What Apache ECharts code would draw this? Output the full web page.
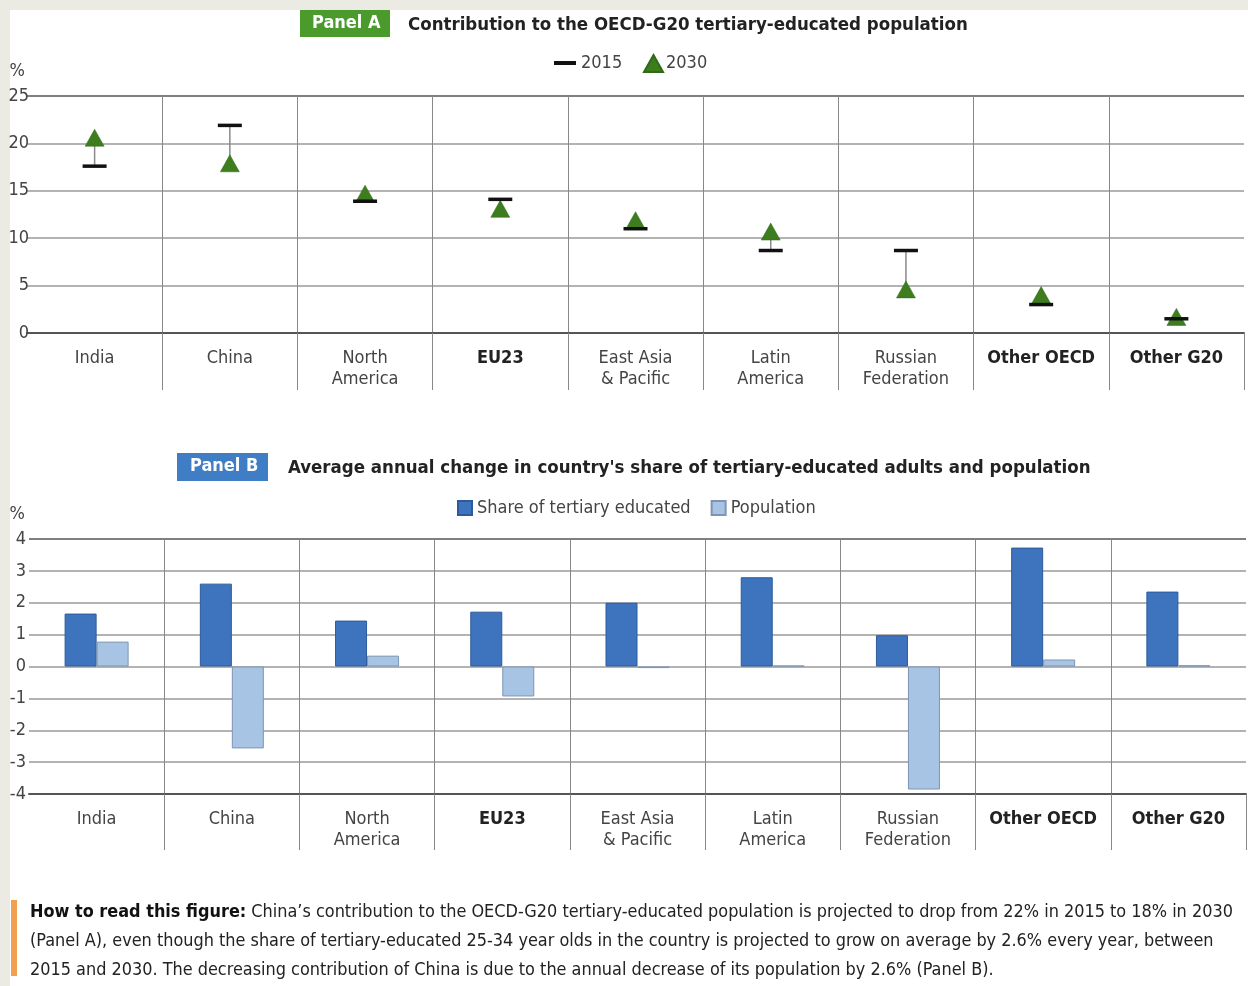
<!DOCTYPE html>
<html><head><meta charset="utf-8">
<script src="https://cdn.jsdelivr.net/npm/echarts@6/dist/echarts.min.js"></script>
<style>html,body{margin:0;padding:0;background:#ecebe3;}#c{width:1248px;height:986px;}</style>
</head><body><div id="c"></div>
<script>
const categories = ['India','China','North\nAmerica','EU23','East Asia\n& Pacific','Latin\nAmerica','Russian\nFederation','Other OECD','Other G20'];
const boldCats = ['EU23','Other OECD','Other G20'];
const contrib2015 = [17.6, 21.9, 13.9, 14.1, 11.0, 8.7, 8.7, 3.0, 1.5];
const contrib2030 = [20.6, 17.9, 14.7, 13.1, 11.9, 10.7, 4.6, 4.0, 1.7];
const shareTertiary = [1.66, 2.6, 1.44, 1.72, 2.0, 2.8, 0.98, 3.73, 2.35];
const population = [0.78, -2.57, 0.34, -0.94, -0.05, 0.03, -3.86, 0.22, 0.04];
const ticksA = {min: 0, max: 25, interval: 5};
const ticksB = {min: -4, max: 4, interval: 1};

const FONT = "'Liberation Sans Narrow','Arial Narrow','DejaVu Sans Condensed','Liberation Sans',sans-serif";
const chart = echarts.init(document.getElementById('c'));

function catLabel(v){ return boldCats.indexOf(v) >= 0 ? '{b|' + v + '}' : v; }
const catRich = {b: {fontFamily: FONT, fontSize: 18, fontWeight: 'bold', color: '#222', lineHeight: 21}};

function xAxisFor(gridIndex, tickLen){
  return {
    type: 'category', gridIndex: gridIndex, data: categories, boundaryGap: true,
    position: 'bottom',
    axisLine: {onZero: false, lineStyle: {color: '#555', width: 2}},
    axisTick: {show: true, length: tickLen, interval: function(i){ return i > 0; }, lineStyle: {color: '#888', width: 1}},
    axisLabel: {interval: 0, margin: 15, fontFamily: FONT, fontSize: 18, color: '#444', lineHeight: 21,
      formatter: catLabel, rich: catRich},
    splitLine: {show: true, showMinLine: false, showMaxLine: false, interval: 0, lineStyle: {color: '#888', width: 1}}
  };
}
function yAxisFor(gridIndex, t, n, margin, padR){
  const cols = []; for (let i = 0; i < n; i++) cols.push(i === n - 1 ? '#555' : '#9a9a9a');
  return {
    type: 'value', gridIndex: gridIndex, min: t.min, max: t.max, interval: t.interval,
    name: '%', nameLocation: 'end', nameGap: 16,
    nameTextStyle: {fontFamily: FONT, fontSize: 18, color: '#444', align: 'right', padding: [0, padR, 0, 0]},
    axisLine: {show: false}, axisTick: {show: false},
    axisLabel: {margin: margin, fontFamily: FONT, fontSize: 18, color: '#444'},
    splitLine: {show: true, lineStyle: {color: cols, width: 1.6}}
  };
}

const option = {
  backgroundColor: '#ecebe3',
  animation: false,
  grid: [
    {left: 27, right: 4, top: 96, height: 237},
    {left: 29, right: 2, top: 539, height: 255}
  ],
  xAxis: [xAxisFor(0, 57), xAxisFor(1, 56)],
  yAxis: [yAxisFor(0, ticksA, 6, -2, 2), yAxisFor(1, ticksB, 9, 3, 4)],
  legend: [
    {data: ['2015'], left: 549, top: 49, itemWidth: 22, itemHeight: 4, icon: 'rect',
      textStyle: {fontFamily: FONT, fontSize: 18, color: '#444'}},
    {data: ['2030'], left: 638, top: 49, itemWidth: 19, itemHeight: 17, icon: 'triangle',
      textStyle: {fontFamily: FONT, fontSize: 18, color: '#444', padding: [0,0,0,-2]}},
    {data: ['Share of tertiary educated', 'Population'], left: 452, top: 494, itemWidth: 14, itemHeight: 14, itemGap: 20, icon: 'rect',
      textStyle: {fontFamily: FONT, fontSize: 18, color: '#444'}}
  ],
  graphic: [
    {type: 'rect', left: 10, top: 10, shape: {width: 1238, height: 976}, style: {fill: '#ffffff'}, z: -10, silent: true},
    {type: 'rect', left: 300, top: 10, shape: {width: 90, height: 27}, style: {fill: '#4a9a2c'}, z: 5},
    {type: 'text', left: 312, top: 14, style: {text: 'Panel A', font: "bold 18px " + FONT, fill: '#ffffff'}, z: 6},
    {type: 'text', left: 408, top: 16, style: {text: 'Contribution to the OECD-G20 tertiary-educated population', font: "bold 18.5px " + FONT, fill: '#222'}, z: 6},
    {type: 'rect', left: 177, top: 453, shape: {width: 91, height: 28}, style: {fill: '#3f7dc4'}, z: 5},
    {type: 'text', left: 190, top: 457, style: {text: 'Panel B', font: "bold 18px " + FONT, fill: '#ffffff'}, z: 6},
    {type: 'text', left: 288, top: 459, style: {text: "Average annual change in country's share of tertiary-educated adults and population", font: "bold 18.5px " + FONT, fill: '#222'}, z: 6},
    {type: 'rect', left: 11, top: 900, shape: {width: 6, height: 76}, style: {fill: '#f0a050'}, z: 5},
    {type: 'text', left: 30, top: 898, z: 6, style: {
      text: '{b|How to read this figure:} China\u2019s contribution to the OECD-G20 tertiary-educated population is projected to drop from 22% in 2015 to 18% in 2030\n(Panel A), even though the share of tertiary-educated 25-34 year olds in the country is projected to grow on average by 2.6% every year, between\n2015 and 2030. The decreasing contribution of China is due to the annual decrease of its population by 2.6% (Panel B).',
      font: "17.9px " + FONT, fill: '#222', lineHeight: 29,
      rich: {b: {font: "bold 17.9px " + FONT, fill: '#111', lineHeight: 29}}
    }}
  ],
  series: [
    {
      type: 'custom', name: 'link', xAxisIndex: 0, yAxisIndex: 0, z: 2,
      data: categories.map((c, i) => [i, contrib2015[i], contrib2030[i]]),
      encode: {x: 0, y: [1, 2]},
      renderItem: function(params, api){
        const p1 = api.coord([api.value(0), api.value(1)]);
        const p2 = api.coord([api.value(0), api.value(2)]);
        return {type: 'line', shape: {x1: p1[0], y1: p1[1], x2: p2[0], y2: p2[1]}, style: {stroke: '#8a8a8a', lineWidth: 1.5}};
      }
    },
    {type: 'scatter', name: '2030', xAxisIndex: 0, yAxisIndex: 0, data: contrib2030, symbol: 'triangle', symbolSize: [19, 17],
      itemStyle: {color: '#3d7d1e', borderColor: '#2f6a16', borderWidth: 0.5, opacity: 1}, z: 3},
    {type: 'scatter', name: '2015', xAxisIndex: 0, yAxisIndex: 0, data: contrib2015, symbol: 'rect', symbolSize: [24, 3.5],
      itemStyle: {color: '#111111', opacity: 1}, z: 4},
    {type: 'bar', name: 'Share of tertiary educated', xAxisIndex: 1, yAxisIndex: 1, data: shareTertiary, barWidth: 32, barGap: '0%',
      itemStyle: {color: '#3e74be', borderColor: '#2c5a9a', borderWidth: 1}},
    {type: 'bar', name: 'Population', xAxisIndex: 1, yAxisIndex: 1, data: population, barWidth: 32, barGap: '0%',
      itemStyle: {color: '#a8c4e4', borderColor: '#7d95b2', borderWidth: 1}}
  ]
};
chart.setOption(option);
</script></body></html>
